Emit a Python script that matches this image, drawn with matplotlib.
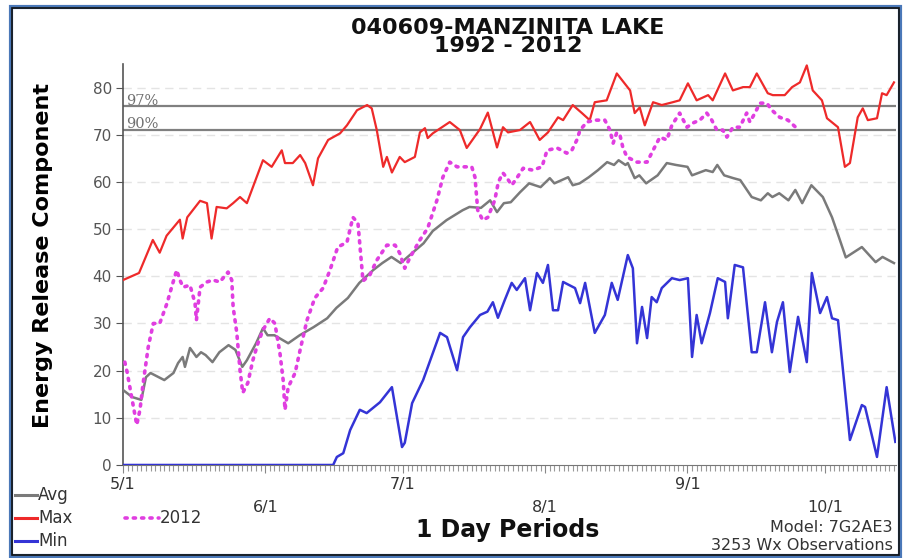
import matplotlib
matplotlib.use("Agg")
import matplotlib.pyplot as plt
from matplotlib.lines import Line2D
from matplotlib.patches import Rectangle

# days after 5/1 and Energy Release Component values
avg_days = [0, 2, 4, 5, 6, 9, 11, 12, 13, 13.5, 14.6, 16, 17, 18, 19.5, 21, 23, 24.5, 26, 27,
            29, 30.5, 31.5, 33, 36, 38.5, 41.5, 44.5, 46.5, 49, 51.5, 54.5, 56.5, 58.5, 60.5,
            62.5, 65.5, 67.5, 70.5, 74, 75.5, 78, 80, 81.5, 83, 84.5, 86.5, 88.5, 91, 93, 94,
            97, 98, 99.5, 101.5, 103.5, 105.5, 107, 108, 109.5, 110, 111.5, 112.5, 114, 116.5,
            118.5, 120.5, 123, 124, 127, 128.5, 129.5, 131, 133, 134.5, 137, 139, 140.5, 141.5,
            143, 145, 146.5, 148, 150, 152.5, 154.5, 156, 157.5, 161, 164, 165.5, 168]
avg_vals = [15.9, 14.4, 13.8, 18.6, 19.5, 18, 19.5, 21.6, 22.9, 20.8, 24.8, 22.9, 23.9, 23.3,
            21.8, 23.9, 25.4, 24.4, 20.8, 22.2, 25.8, 29, 27.5, 27.5, 25.8, 27.5, 29.2, 31.1,
            33.3, 35.4, 38.6, 41.3, 42.8, 44.1, 42.8, 44.5, 47, 49.6, 51.9, 54, 54.7, 54.5,
            56.1, 53.6, 55.5, 55.7, 57.8, 59.7, 58.9, 60.8, 59.7, 61, 59.3, 59.7, 61, 62.5,
            64.2, 63.6, 64.6, 63.6, 64, 60.8, 61.4, 59.7, 61.4, 64, 63.6, 63.2, 61.4, 62.5,
            62.1, 63.6, 61.4, 60.8, 60.4, 56.8, 56.1, 57.6, 56.8, 57.6, 56.1, 58.3, 55.5, 59.3,
            56.8, 52.5, 48.3, 44, 46.2, 43, 44.1, 42.8]

max_days = [0, 3.5, 6.5, 8, 9.5, 12.4, 13, 14, 16.8, 18.3, 19.3, 20.4, 22.6, 24, 25.5, 27,
            30.5, 32.4, 34.6, 35.3, 37, 38.6, 39.7, 41.4, 42.5, 44.7, 47.3, 48.8, 51, 53.2,
            54.2, 55.3, 56.7, 57.5, 58.6, 60.3, 61.4, 63.6, 64.7, 65.8, 66.4, 67.5, 71.2, 73.4,
            74.9, 77.8, 79.5, 81.5, 82.8, 83.9, 86.5, 88.7, 90.8, 92.6, 94.8, 95.9, 98, 100,
            101.7, 102.8, 105.4, 107.6, 110.5, 111.5, 112.6, 113.7, 115.5, 117.4, 119.8, 121.3,
            123.1, 125, 127.5, 128.5, 131.2, 132.9, 135.1, 136.6, 138.1, 140.5, 141.6, 144.2,
            145.8, 147.5, 149, 150.3, 152.3, 153.4, 155.8, 157.3, 158.4, 160.1, 161.2, 162.3,
            164.3, 165.4, 166.4, 168]
max_vals = [39.2, 40.7, 47.7, 45, 48.6, 52, 48, 52.5, 56, 55.5, 48, 54.7, 54.4, 55.5, 56.8,
            55.5, 64.6, 63.2, 66.7, 64, 64, 65.7, 64, 59.3, 65, 68.9, 70.3, 72, 75.2, 76.3,
            75.6, 71, 63.2, 65.3, 62, 65.3, 64.2, 65.3, 70.5, 71.4, 69.3, 70.3, 72.7, 71, 67.2,
            71.2, 74.7, 67.3, 71.6, 70.5, 71, 72.7, 68.9, 70.5, 73.7, 73.1, 76.3, 74.6, 73.1,
            76.9, 77.3, 83, 79.4, 74.6, 75.8, 72, 76.9, 76.3, 76.9, 77.3, 80.9, 77.3, 78.4,
            77.3, 83, 79.4, 80.1, 80.1, 83, 78.8, 78.4, 78.4, 80.1, 81.1, 84.7, 79.4, 77.3,
            73.5, 71.6, 63.2, 64, 73.7, 75.6, 73.1, 73.5, 78.8, 78.4, 81.1]

min_days = [0, 45.8, 46.6, 48, 49.5, 51.6, 53.1, 56, 58.6, 60.8, 61.4, 63, 65.4, 69.1, 70.6,
            72.8, 74.1, 75.6, 77.8, 79.4, 80.6, 81.7, 83.2, 84.7, 85.8, 87.6, 88.7, 90.2, 91.5,
            92.6, 93.7, 94.8, 95.9, 98.5, 99.6, 100.7, 102.8, 105, 106.5, 107.8, 110, 111.1,
            112, 113.1, 114.2, 115.2, 116.3, 117.4, 119.6, 121.3, 123.1, 124, 125, 126.1,
            127.9, 129.6, 131.2, 131.8, 133.3, 135.1, 137, 138.1, 139.9, 141.4, 142.5, 143.8,
            145.3, 147.1, 149, 150.1, 151.9, 153.4, 154.5, 155.8, 158.4, 161, 161.7, 164.3,
            166.4, 168.3]
min_vals = [0, 0, 1.7, 2.5, 7.4, 11.7, 11, 13.3, 16.5, 3.8, 4.7, 13.1, 18, 28, 27.1, 20.1,
            27.1, 29.2, 31.8, 32.5, 34.5, 31.2, 35, 38.6, 37.1, 39.6, 32.8, 40.7, 38.6, 42.4,
            32.8, 32.8, 38.8, 37.5, 34.3, 38.6, 28, 31.8, 38.6, 35, 44.5, 41.7, 25.8, 33.5,
            26.9, 35.6, 34.5, 37.5, 39.6, 39.2, 39.6, 22.9, 31.8, 25.8, 32.2, 39.6, 38.8, 31.1,
            42.4, 41.9, 23.9, 23.9, 34.5, 23.9, 30.3, 34.5, 19.7, 31.4, 21.8, 40.7, 32.2, 35.6,
            31.1, 30.7, 5.3, 12.7, 12.3, 1.7, 16.5, 4.9]

y2012_days = [0.4, 0.9, 2, 3, 3.7, 4.4, 5.5, 6.6, 8, 9.6, 10.6, 11.7, 12.4, 13.1, 14.6, 15.7,
              16, 16.8, 18.3, 19.6, 21.1, 22.9, 23.7, 24, 24.8, 25.5, 26.1, 27.2, 28.3, 29.4,
              30.5, 32, 33.1, 34.2, 34.9, 35.3, 36, 37.5, 38.6, 40.1, 41.8, 43.6, 45.1, 46.8,
              48.8, 50.1, 51.2, 52.3, 53.8, 55.3, 57.5, 59.3, 60.3, 61.4, 62.5, 64.7, 66.4,
              68.4, 69.7, 71.2, 72.8, 74, 76, 76.7, 77.3, 78.4, 79.5, 81, 81.8, 82.8, 83.7,
              84.7, 85.8, 87.2, 89.3, 91.3, 92.4, 94.6, 96.7, 97.8, 98.9, 99.6, 101.1, 102.8,
              105, 106.1, 106.8, 107.6, 108.3, 108.9, 109.8, 112, 114.2, 115.5, 117, 118.5,
              119.6, 121.3, 122.9, 124.2, 125.7, 127.2, 128.3, 129.4, 130.7, 131.6, 132.9,
              134.4, 135.9, 136.6, 137.7, 138.8, 140.3, 141.4, 143.1, 144.9, 146.8]
y2012_vals = [21.8, 19.7, 13.8, 8.5, 11.7, 17.4, 25, 30, 30, 34.3, 37.7, 41.3, 39.2, 37.7,
              38.1, 34.3, 30.7, 37.7, 38.8, 39.2, 38.8, 40.9, 39.2, 33.5, 28, 20.1, 15.3, 17.4,
              22.2, 25.8, 28.6, 31.1, 30, 23.7, 18, 11.7, 16.5, 19.5, 24.4, 30.7, 35.4, 37.5,
              41.3, 46.2, 47.2, 52.5, 51.3, 39, 40.3, 43.4, 46.6, 46.6, 44.9, 41.7, 43.9, 47.7,
              50.2, 56.1, 61, 64.2, 63.2, 63.2, 63.2, 61, 54, 51.9, 52.5, 56.1, 60, 61.9, 60.8,
              59.3, 60.8, 62.9, 62.5, 63.2, 66.7, 67.2, 66.1, 66.7, 68.9, 71, 72.7, 73.1, 73.1,
              71, 68.2, 70.5, 69.9, 67.4, 65.3, 64.2, 64.2, 66.7, 69.5, 68.9, 72, 74.6, 71.6,
              72.5, 73.1, 74.6, 73.1, 71, 71, 69.5, 71.6, 71.6, 74.6, 72.7, 74.6, 76.7, 76.7,
              75.2, 73.7, 73.1, 71.4]

month_days = [0, 31, 61, 92, 123, 153]
month_labels = ["5/1", "6/1", "7/1", "8/1", "9/1", "10/1"]
pct_levels = [76, 71]
pct_labels = ["97%", "90%"]

plt.rcParams['font.family'] = ['DejaVu Sans']

fig = plt.figure(figsize=(9.09, 5.58), dpi=100)
ax = fig.add_axes([0.1353, 0.1667, 0.8507, 0.7186])

for yv in range(10, 90, 10):
    ax.axhline(yv, color="#e4e4e4", lw=1, ls=(0, (6, 4)), zorder=0)

for lev, lab in zip(pct_levels, pct_labels):
    ax.axhline(lev, color="#808080", lw=1.6, zorder=1)
    ax.text(0.6, lev - 0.3, lab, family="DejaVu Serif", fontsize=10.5, color="#707070",
            va="bottom", ha="left")

ax.plot(avg_days, avg_vals, color="#7a7a7a", lw=1.8, zorder=3)
ax.plot(max_days, max_vals, color="#ee2a2a", lw=1.6, zorder=3)
ax.plot(y2012_days, y2012_vals, color="#e03ee0", lw=2.6, ls=(0, (0.6, 1.7)),
        dash_capstyle="round", zorder=4)
ax.plot(min_days, min_vals, color="#3434d6", lw=1.8, zorder=3)

ax.set_xlim(0, 168.5)
ax.set_ylim(0, 85)
ax.spines["top"].set_visible(False)
ax.spines["right"].set_visible(False)
ax.spines["left"].set_color("#555555")
ax.spines["bottom"].set_color("#777777")
ax.spines["left"].set_linewidth(1.2)

ax.set_yticks(range(0, 90, 10))
ax.tick_params(axis="y", length=5, color="#555555", labelsize=11, labelcolor="#555555", pad=3)
ax.set_xticks(month_days)
ax.set_xticklabels(month_labels)
ax.set_xticks(range(0, 169), minor=True)
ax.tick_params(axis="x", which="major", length=6, color="#888888", labelsize=11.5,
               labelcolor="#333333")
ax.tick_params(axis="x", which="minor", length=4, color="#999999", width=0.8)
for i, t in enumerate(ax.xaxis.get_major_ticks()):
    t.set_pad(2.5 if i % 2 == 0 else 19)

ax.set_ylabel("Energy Release Component", fontsize=16, fontweight="bold")
ax.yaxis.set_label_coords(-0.09, 0.522)

fig.text(0.559, 1 - 37 / 558, "040609-MANZINITA LAKE\n1992 - 2012", ha="center",
         va="center", fontsize=16, fontweight="bold", color="#111111", linespacing=0.92)
fig.text(0.559, 1 - 530 / 558, "1 Day Periods", ha="center", va="center",
         fontsize=17, fontweight="bold", color="#111111")
fig.text(893 / 909, 1 - 528 / 558, "Model: 7G2AE3", ha="right", va="center",
         fontsize=11.5, color="#333333")
fig.text(893 / 909, 1 - 546 / 558, "3253 Wx Observations", ha="right", va="center",
         fontsize=11.5, color="#333333")

# legend drawn by hand in the lower left corner
leg = [("Avg", "#7a7a7a", "-", 15, 495), ("Max", "#ee2a2a", "-", 15, 518),
       ("Min", "#3434d6", "-", 15, 541), ("2012", "#e03ee0", (0, (0.6, 1.7)), 125, 518)]
for name, col, style, x0, y0 in leg:
    ln = 22 if style == "-" else 34
    yf = 1 - y0 / 558
    fig.add_artist(Line2D([x0 / 909, (x0 + ln) / 909], [yf, yf], color=col,
                          lw=2.2 if style == "-" else 2.6, ls=style,
                          dash_capstyle="round", transform=fig.transFigure))
    fig.text((x0 + ln + 1) / 909, yf, name, ha="left", va="center", fontsize=12,
             color="#333333")

fig.add_artist(Rectangle((11 / 909, 2 / 558), 889 / 909, 549 / 558, fill=False,
                         edgecolor="#4a78b8", lw=3, transform=fig.transFigure))
fig.add_artist(Rectangle((12 / 909, 3 / 558), 887 / 909, 547 / 558, fill=False,
                         edgecolor="#111111", lw=1.2, transform=fig.transFigure))

fig.savefig("out.png", dpi=100)
